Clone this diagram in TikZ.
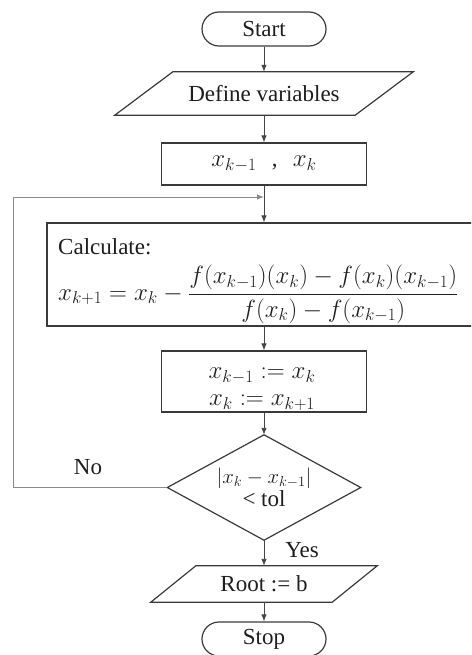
\documentclass[tikz,border=0pt]{standalone}
\usepackage{fontspec}
\setmainfont{Liberation Serif}
\usetikzlibrary{arrows.meta}
\definecolor{shapeC}{HTML}{3A3A3A}
\definecolor{connC}{HTML}{454545}
\definecolor{loopC}{HTML}{8A8A8A}
\definecolor{txtC}{HTML}{1E1E1E}
\begin{document}
\begin{tikzpicture}[x=1pt,y=-1pt,
  txt/.style={text=txtC, font=\fontsize{23}{25}\selectfont},
  box/.style={txt, draw=shapeC, line width=1.2pt, inner sep=0pt},
  ghost/.style={txt, inner sep=0pt},
  outline/.style={draw=shapeC, line width=1.2pt, line join=miter},
  conn/.style={draw=connC, line width=0.9pt, -{Latex[length=7pt,width=5.5pt]}},
  loopline/.style={draw=loopC, line width=0.9pt, -{Latex[length=7pt,width=5.5pt]}}]
\useasboundingbox (0,0) rectangle (471,655);
\clip (0,0) rectangle (471,655);
% nodes
\node[box, rounded corners=17pt, minimum width=124pt, minimum height=34pt] (start) at (264,29) {Start};
\node[ghost, minimum width=298pt, minimum height=43pt] (def) at (264,93.5) {Define variables};
\draw[outline] ([xshift=58pt]def.north west) -- (def.north east) -- ([xshift=-58pt]def.south east) -- (def.south west) -- cycle;
\node[box, minimum width=205pt, minimum height=42pt] (xs) at (264,164) {$x_{k-1}$\ \ \,,\ \ \,$x_k$};
\node[box, minimum width=426pt, minimum height=103pt] (calc) at (260,274.5) {};
\node[ghost, anchor=west] (calcT) at (58,247) {Calculate:};
\node[ghost, anchor=west] (calcF) at (58,294) {$\displaystyle x_{k+1}=x_k-\frac{f(x_{k-1})(x_k)-f(x_k)(x_{k-1})}{f(x_k)-f(x_{k-1})}$};
\node[box, minimum width=205pt, minimum height=61pt] (upd) at (264,381.5) {};
\node[ghost, align=center, font=\fontsize{23}{27}\selectfont] (updT) at (262,389) {$x_{k-1}:=x_k$\\$x_k:=x_{k+1}$};
\node[ghost, minimum width=193pt, minimum height=105pt, align=center, font=\fontsize{22}{22}\selectfont] (dec) at (264,487.5) {$|x_k-x_{k-1}|$\\[1pt]\fontsize{23}{23}\selectfont< tol};
\draw[outline] (dec.north) -- (dec.east) -- (dec.south) -- (dec.west) -- cycle;
\node[ghost, minimum width=226pt, minimum height=36pt] (root) at (264,584) {Root := b};
\draw[outline] ([xshift=45pt]root.north west) -- (root.north east) -- ([xshift=-45pt]root.south east) -- (root.south west) -- cycle;
\node[box, rounded corners=17pt, minimum width=124pt, minimum height=34pt] (stop) at (264,639) {Stop};
\node[ghost] (no) at (88,467) {No};
\node[ghost] (yes) at (302,550) {Yes};
% connectors
\draw[conn] (start.south) -- (def.north);
\draw[conn] (def.south) -- (xs.north);
\draw[conn] (xs.south) -- (xs.south |- calc.north);
\draw[conn] (calc.south -| upd.north) -- (upd.north);
\draw[conn] (upd.south) -- (dec.north);
\draw[conn] (dec.south) -- (root.north);
\draw[conn] (root.south) -- (stop.north);
\coordinate (loopL) at (13,197);
\coordinate (join) at (264,197);
\draw[loopline] (dec.west) -| (loopL) -- (join);
\end{tikzpicture}
\end{document}
